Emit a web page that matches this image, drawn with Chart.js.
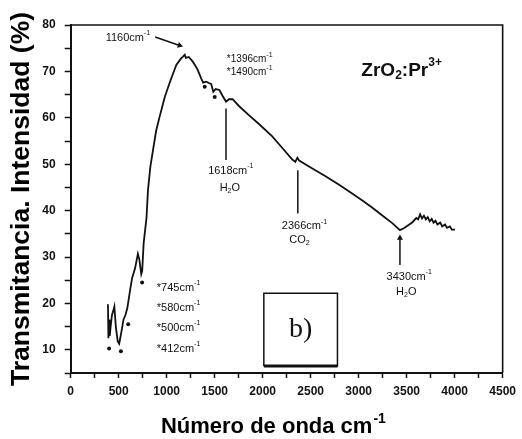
<!DOCTYPE html>
<html>
<head>
<meta charset="utf-8">
<script src="https://cdn.jsdelivr.net/npm/chart.js@4.4.0/dist/chart.umd.min.js"></script>
<style>
  html, body { margin: 0; padding: 0; background: #fff; }
  #ftir { display: block; }
</style>
</head>
<body>
<canvas id="ftir" width="522" height="439"></canvas>
<script>
// espectro FTIR de ZrO2:Pr3+
var waveNumber = [388, 393, 400, 407, 416, 430, 445, 455, 470, 490, 505, 525, 550, 570, 590, 620, 640, 670, 700, 715, 735, 745, 760, 790, 805, 830, 857, 890, 926, 980, 1030, 1100, 1150, 1170, 1188, 1200, 1230, 1272, 1320, 1359, 1380, 1411, 1440, 1463, 1486, 1510, 1549, 1580, 1618, 1650, 1687, 1750, 1850, 1964, 2100, 2200, 2309, 2340, 2361, 2380, 2500, 2655, 2800, 2932, 3050, 3150, 3243, 3350, 3430, 3470, 3520, 3560, 3600, 3620, 3640, 3660, 3680, 3700, 3720, 3740, 3761, 3780, 3800, 3820, 3850, 3870, 3900, 3920, 3950, 3970, 4004];
var transmittance = [19.8, 12.5, 16.5, 13.0, 15.0, 17.5, 18.5, 19.3, 15.0, 11.8, 11.3, 13.5, 16.5, 17.5, 19.0, 23.0, 25.5, 27.5, 30.7, 29.5, 26.3, 27.0, 33.0, 38.5, 44.4, 49.5, 53.0, 57.2, 60.2, 64.5, 67.5, 71.4, 72.8, 73.2, 73.6, 72.9, 73.1, 72.1, 70.5, 68.5, 67.6, 67.8, 67.5, 67.3, 65.6, 66.2, 66.0, 64.8, 63.5, 64.0, 64.0, 62.6, 60.7, 58.6, 56.0, 53.6, 51.0, 50.5, 51.4, 50.8, 49.3, 47.4, 45.5, 43.7, 42.0, 40.5, 39.0, 37.3, 35.8, 36.2, 36.9, 37.5, 38.4, 38.1, 39.2, 38.3, 38.9, 38.1, 38.6, 37.7, 38.2, 37.4, 37.8, 37.0, 37.4, 36.6, 37.0, 36.3, 36.6, 35.9, 35.9];

// puntos marcados sobre las bandas
var peakX = [400, 523, 599, 744, 1396, 1500];
var peakY = [10.3, 9.7, 15.5, 24.5, 66.7, 64.5];

// lineas de referencia de las bandas
var bandX = [1618, 2366, 3430];
var bandTop = [62.0, 48.7, 34.1];
var bandBottom = [50.9, 39.4, 28.3];

// flecha del maximo
var arrowX = [880, 1135];
var arrowY = [77.4, 75.6];

// recuadro b)
var boxX = [2012, 2779];
var boxY = [6.5, 22.2];

var xTickMarks = [0, 250, 500, 750, 1000, 1250, 1500, 1750, 2000, 2250, 2500, 2750, 3000, 3250, 3500, 3750, 4000, 4250, 4500];
var xTickLabels = ['0', '500', '1000', '1500', '2000', '2500', '3000', '3500', '4000', '4500'];
var yTickMarks = [5, 10, 15, 20, 25, 30, 35, 40, 45, 50, 55, 60, 65, 70, 75, 80];
var yTickLabels = ['10', '20', '30', '40', '50', '60', '70', '80'];

var sans = 'Liberation Sans, Arial, sans-serif';

// textos: partes normales, 'sup' y 'sub'
var notes = [
  { x: 596, y: 77.2, size: 11, align: 'center', parts: [['1160cm'], ['-1', 'sup']] },
  { x: 1865, y: 72.7, size: 10, align: 'center', parts: [['*1396cm'], ['-1', 'sup']] },
  { x: 1865, y: 69.9, size: 10, align: 'center', parts: [['*1490cm'], ['-1', 'sup']] },
  { x: 3028, y: 70.2, size: 19, align: 'left', bold: true, parts: [['ZrO'], ['2', 'sub'], [':Pr'], ['3+', 'sup']] },
  { x: 1668, y: 48.5, size: 11, align: 'center', parts: [['1618cm'], ['-1', 'sup']] },
  { x: 1658, y: 44.9, size: 11, align: 'center', parts: [['H'], ['2', 'sub'], ['O']] },
  { x: 2436, y: 36.6, size: 11, align: 'center', parts: [['2366cm'], ['-1', 'sup']] },
  { x: 2384, y: 33.7, size: 11, align: 'center', parts: [['CO'], ['2', 'sub']] },
  { x: 3527, y: 25.7, size: 11, align: 'center', parts: [['3430cm'], ['-1', 'sup']] },
  { x: 3496, y: 22.5, size: 11, align: 'center', parts: [['H'], ['2', 'sub'], ['O']] },
  { x: 897, y: 23.3, size: 11, align: 'left', parts: [['*745cm'], ['-1', 'sup']] },
  { x: 897, y: 19.0, size: 11, align: 'left', parts: [['*580cm'], ['-1', 'sup']] },
  { x: 897, y: 14.7, size: 11, align: 'left', parts: [['*500cm'], ['-1', 'sup']] },
  { x: 897, y: 10.2, size: 11, align: 'left', parts: [['*412cm'], ['-1', 'sup']] }
];

function pts(xs, ys) {
  var out = [];
  for (var i = 0; i < xs.length; i++) out.push({ x: xs[i], y: ys[i] });
  return out;
}

function drawRich(ctx, parts, x, y, size, bold, align) {
  var w = bold ? 'bold ' : '';
  var small = Math.round(size * 0.65);
  var total = 0;
  parts.forEach(function (p) {
    ctx.font = w + (p[1] ? small : size) + 'px ' + sans;
    total += ctx.measureText(p[0]).width;
  });
  var cx = align === 'center' ? x - total / 2 : x;
  ctx.textAlign = 'left';
  ctx.textBaseline = 'middle';
  parts.forEach(function (p) {
    var dy = 0;
    if (p[1] === 'sup') dy = -size * 0.42;
    if (p[1] === 'sub') dy = size * 0.3;
    ctx.font = w + (p[1] ? small : size) + 'px ' + sans;
    ctx.fillText(p[0], cx, y + dy);
    cx += ctx.measureText(p[0]).width;
  });
}

var textPlugin = {
  id: 'textos',
  afterDraw: function (chart) {
    var ctx = chart.ctx;
    var xs = chart.scales.x, ys = chart.scales.y;
    var area = chart.chartArea;
    ctx.save();
    ctx.fillStyle = '#111';
    notes.forEach(function (n) {
      drawRich(ctx, n.parts, xs.getPixelForValue(n.x), ys.getPixelForValue(n.y), n.size, n.bold, n.align);
    });
    // b)
    ctx.font = '28px Liberation Serif, Times New Roman, serif';
    ctx.textAlign = 'center';
    ctx.textBaseline = 'middle';
    ctx.fillText('b)', xs.getPixelForValue((boxX[0] + boxX[1]) / 2), ys.getPixelForValue((boxY[0] + boxY[1]) / 2));
    // titulo eje x
    ctx.fillStyle = '#000';
    ctx.font = 'bold 22px ' + sans;
    var t1 = 'Número de onda cm';
    var w1 = ctx.measureText(t1).width;
    var cx = (area.left + area.right) / 2 - 20;
    ctx.textAlign = 'left';
    ctx.textBaseline = 'alphabetic';
    ctx.fillText(t1, cx - w1 / 2, chart.height - 6);
    ctx.font = 'bold 14px ' + sans;
    ctx.fillText('-1', cx + w1 / 2 + 1, chart.height - 16);
    // marco superior y derecho
    ctx.strokeStyle = '#111';
    ctx.lineWidth = 1.6;
    ctx.beginPath();
    ctx.moveTo(area.left, area.top);
    ctx.lineTo(area.right, area.top);
    ctx.lineTo(area.right, area.bottom);
    ctx.stroke();
    ctx.restore();
  }
};

var bandSets = bandX.map(function (bx, i) {
  return {
    data: [{ x: bx, y: bandTop[i] }, { x: bx, y: bandBottom[i] }],
    showLine: true,
    borderColor: '#111',
    borderWidth: 1.5,
    pointRadius: i === 2 ? [3.5, 0] : 0,
    pointStyle: 'triangle',
    backgroundColor: '#111',
    pointBorderWidth: 0
  };
});

var chart = new Chart(document.getElementById('ftir'), {
  type: 'scatter',
  data: {
    datasets: [
      {
        data: pts(waveNumber, transmittance),
        showLine: true,
        borderColor: '#111',
        borderWidth: 1.8,
        pointRadius: 0,
        tension: 0
      },
      {
        data: pts(peakX, peakY),
        pointRadius: 2,
        backgroundColor: '#111',
        borderWidth: 0
      },
      {
        data: pts(arrowX, arrowY),
        showLine: true,
        borderColor: '#111',
        borderWidth: 1.5,
        pointRadius: [0, 3.5],
        pointStyle: 'triangle',
        rotation: 108,
        backgroundColor: '#111',
        pointBorderWidth: 0
      },
      {
        data: pts([boxX[0], boxX[0], boxX[1], boxX[1], boxX[0]], [boxY[0], boxY[1], boxY[1], boxY[0], boxY[0]]),
        showLine: true,
        borderColor: '#111',
        borderWidth: 1.5,
        pointRadius: 0
      },
      {
        data: pts(boxX, [boxY[0], boxY[0]]),
        showLine: true,
        borderColor: '#111',
        borderWidth: 3,
        pointRadius: 0
      }
    ].concat(bandSets)
  },
  options: {
    responsive: false,
    animation: false,
    devicePixelRatio: 1,
    layout: { padding: { top: 25, right: 17, left: 0, bottom: 0 } },
    plugins: {
      legend: { display: false },
      tooltip: { enabled: false }
    },
    scales: {
      x: {
        type: 'linear',
        min: 0,
        max: 4500,
        afterBuildTicks: function (scale) {
          scale.ticks = xTickMarks.map(function (v) { return { value: v }; });
        },
        afterFit: function (scale) { scale.height = 66; },
        ticks: {
          autoSkip: false,
          maxRotation: 0,
          padding: 6,
          color: '#111',
          font: { family: sans, size: 12, weight: 'bold' },
          callback: function (v) {
            return xTickLabels.indexOf(String(v)) >= 0 ? String(v) : '';
          }
        },
        grid: { drawOnChartArea: false, drawTicks: true, tickLength: 5, tickColor: '#111', tickWidth: 1.5 },
        border: { display: true, color: '#111', width: 2 }
      },
      y: {
        type: 'linear',
        min: 5,
        max: 80,
        afterBuildTicks: function (scale) {
          scale.ticks = yTickMarks.map(function (v) { return { value: v }; });
        },
        afterFit: function (scale) { scale.width = 70.7; },
        ticks: {
          autoSkip: false,
          padding: 9,
          color: '#111',
          font: { family: sans, size: 12, weight: 'bold' },
          callback: function (v) {
            return yTickLabels.indexOf(String(v)) >= 0 ? String(v) : '';
          }
        },
        grid: { drawOnChartArea: false, drawTicks: true, tickLength: 6, tickColor: '#111', tickWidth: 1.5 },
        border: { display: true, color: '#111', width: 2 },
        title: {
          display: true,
          text: 'Transmitancia. Intensidad (%)',
          color: '#000',
          font: { family: sans, size: 26.5, weight: 'bold' },
          padding: { top: 6, bottom: 0 }
        }
      }
    }
  },
  plugins: [textPlugin]
});
</script>
</body>
</html>
